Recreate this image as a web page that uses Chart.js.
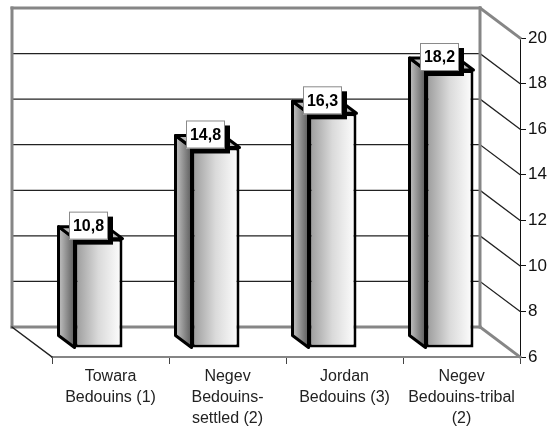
<!DOCTYPE html>
<html>
<head>
<meta charset="utf-8">
<style>
  html, body { margin: 0; padding: 0; background: #fff; }
  #wrap { width: 548px; height: 429px; }
</style>
<script src="https://cdn.jsdelivr.net/npm/chart.js@4"></script>
</head>
<body>
<div id="wrap"><canvas id="chart" width="548" height="429"></canvas></div>
<script>
const categories = [
  ["Towara", "Bedouins (1)"],
  ["Negev", "Bedouins-", "settled (2)"],
  ["Jordan", "Bedouins (3)"],
  ["Negev", "Bedouins-tribal", "(2)"]
];
const values = [10.8, 14.8, 16.3, 18.2];
const valueLabels = ["10,8", "14,8", "16,3", "18,2"];
const axisTicks = [6, 8, 10, 12, 14, 16, 18, 20];

// depth of the box behind the front plane, and how far bars sit inside it
const wall = {dx: -40, dy: -30};
const barShift = {dx: -12, dy: -9};
const barDepth = {dx: -16, dy: -12};
const BAR_PCT = 0.41;
const WALL_GRAY = "#868686";

function line(ctx, x1, y1, x2, y2, color, width) {
  ctx.strokeStyle = color;
  ctx.lineWidth = width;
  ctx.beginPath();
  ctx.moveTo(x1, y1);
  ctx.lineTo(x2, y2);
  ctx.stroke();
}

function frontGradient(c) {
  const xs = c.chart.scales.x;
  const mid = xs.getPixelForValue(c.dataIndex);
  const half = xs.width / categories.length * BAR_PCT / 2;
  if (!Number.isFinite(mid) || !Number.isFinite(half)) return "#ccc";
  const g = c.chart.ctx.createLinearGradient(mid - half, 0, mid + half, 0);
  g.addColorStop(0, "#989898");
  g.addColorStop(0.5, "#dadada");
  g.addColorStop(1, "#ffffff");
  return g;
}

const box3d = {
  id: "box3d",
  beforeDatasetsDraw(chart) {
    const {ctx, chartArea: a, scales: {y}} = chart;
    const backL = a.left + wall.dx, backR = a.right + wall.dx;
    const backT = a.top + wall.dy, backB = a.bottom + wall.dy;

    ctx.save();
    ctx.lineCap = "square";
    // gridlines run along the back wall and down the right side wall
    for (const v of axisTicks) {
      if (v === axisTicks[0] || v === axisTicks[axisTicks.length - 1]) continue;
      const py = y.getPixelForValue(v);
      line(ctx, backL, py + wall.dy, backR, py + wall.dy, "#222", 1.3);
      line(ctx, backR, py + wall.dy, a.right, py, "#222", 1.3);
    }
    // wall outline
    line(ctx, backL, backT, backR, backT, WALL_GRAY, 3);
    line(ctx, backL, backT, backL, backB, WALL_GRAY, 3);
    line(ctx, backR, backT, backR, backB, WALL_GRAY, 3);
    line(ctx, backL, backB, backR, backB, WALL_GRAY, 3);
    line(ctx, backR, backT, a.right, a.top, WALL_GRAY, 3);
    line(ctx, backR, backB, a.right, a.bottom, WALL_GRAY, 3);
    line(ctx, backL, backB, a.left, a.bottom, "#222", 1.3);
    ctx.restore();

    // side and top faces go under the front faces drawn by the bar controller
    const bars = chart.getDatasetMeta(0).data;
    ctx.save();
    ctx.translate(barShift.dx, barShift.dy);
    ctx.lineJoin = "round";
    for (const bar of bars) {
      const left = bar.x - bar.width / 2, right = bar.x + bar.width / 2;
      const top = bar.y, base = bar.base;

      const side = ctx.createLinearGradient(left + barDepth.dx, 0, left, 0);
      side.addColorStop(0, "#c4c4c4");
      side.addColorStop(1, "#5c5c5c");
      ctx.fillStyle = side;
      ctx.strokeStyle = "#000";
      ctx.lineWidth = 3;
      ctx.beginPath();
      ctx.moveTo(left, top);
      ctx.lineTo(left + barDepth.dx, top + barDepth.dy);
      ctx.lineTo(left + barDepth.dx, base + barDepth.dy);
      ctx.lineTo(left, base);
      ctx.closePath();
      ctx.fill();
      ctx.stroke();

      ctx.fillStyle = "#b8b8b8";
      ctx.beginPath();
      ctx.moveTo(left, top);
      ctx.lineTo(left + barDepth.dx, top + barDepth.dy);
      ctx.lineTo(right + barDepth.dx, top + barDepth.dy);
      ctx.lineTo(right, top);
      ctx.closePath();
      ctx.fill();
      ctx.stroke();
    }
    ctx.restore();

    ctx.save();
    ctx.translate(barShift.dx, barShift.dy);
  },
  afterDatasetsDraw(chart) {
    const {ctx} = chart;
    ctx.restore();

    // value flags with a hard black drop shadow
    const bars = chart.getDatasetMeta(0).data;
    ctx.save();
    ctx.font = "bold 16px 'Liberation Sans', Arial, sans-serif";
    ctx.textAlign = "center";
    ctx.textBaseline = "middle";
    bars.forEach((bar, i) => {
      const w = 39, h = 28;
      const cx = bar.x + barShift.dx - 10;
      const bottom = bar.y + barShift.dy + 1;
      const x = cx - w / 2, yTop = bottom - h;
      ctx.fillStyle = "#000";
      ctx.fillRect(x + 5, yTop + 5, w, h);
      ctx.fillStyle = "#fff";
      ctx.strokeStyle = "#8a8a8a";
      ctx.lineWidth = 1;
      ctx.fillRect(x, yTop, w, h);
      ctx.strokeRect(x + 0.5, yTop + 0.5, w - 1, h - 1);
      ctx.fillStyle = "#000";
      ctx.fillText(valueLabels[i], cx, yTop + h / 2 + 1);
    });
    ctx.restore();
  }
};

new Chart(document.getElementById("chart"), {
  type: "bar",
  data: {
    labels: categories,
    datasets: [{
      data: values,
      base: axisTicks[0],
      clip: false,
      barPercentage: BAR_PCT,
      categoryPercentage: 1,
      borderColor: "#000",
      borderWidth: 3,
      borderSkipped: false,
      backgroundColor: frontGradient
    }]
  },
  options: {
    responsive: false,
    animation: false,
    layout: {padding: {left: 52, top: 38, right: 0, bottom: 0}},
    plugins: {legend: {display: false}, tooltip: {enabled: false}},
    scales: {
      x: {
        afterFit(s) { s.height = 72; },
        border: {color: WALL_GRAY, width: 2},
        grid: {drawOnChartArea: false, color: "#444", tickLength: 7},
        ticks: {
          color: "#222",
          maxRotation: 0,
          autoSkip: false,
          padding: 2,
          font: {family: "'Liberation Sans', Arial, sans-serif", size: 16, lineHeight: 1.31}
        }
      },
      y: {
        position: "right",
        min: axisTicks[0],
        max: axisTicks[axisTicks.length - 1],
        afterFit(s) { s.width = 28; },
        afterBuildTicks(s) { s.ticks = axisTicks.map(value => ({value})); },
        border: {color: "#111", width: 1},
        grid: {drawOnChartArea: false, color: "#111", tickLength: 6},
        ticks: {
          color: "#111",
          padding: 2,
          font: {family: "'Liberation Sans', Arial, sans-serif", size: 17}
        }
      }
    }
  },
  plugins: [box3d]
});
</script>
</body>
</html>
